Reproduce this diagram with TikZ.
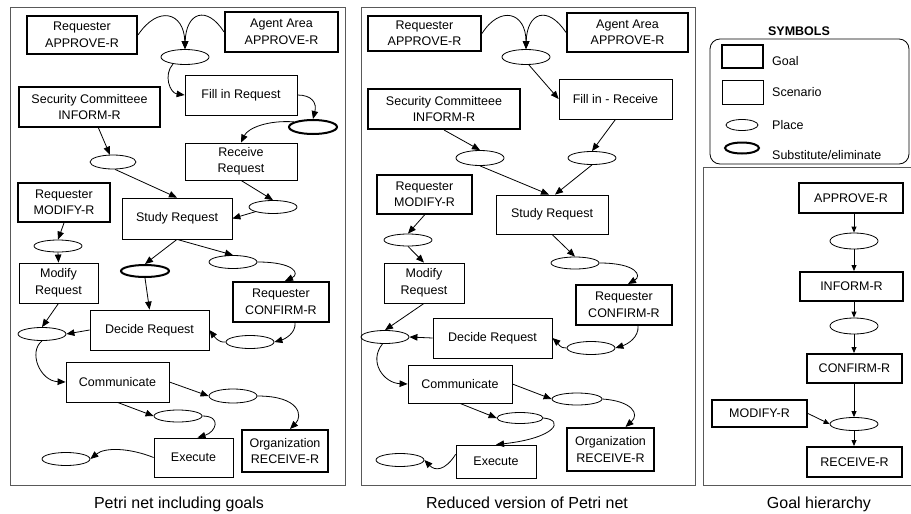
\documentclass[tikz,border=0pt]{standalone}
\usepackage{fontspec}
\setmainfont{Liberation Sans}
\usetikzlibrary{arrows.meta,shapes.geometric}
\tikzset{
  sz/.style 2 args={minimum width=#1pt, minimum height=#2pt},
  basetext/.style={font=\fontsize{12.5pt}{16.5pt}\selectfont, align=center, inner sep=0pt},
  goalbox/.style={basetext, draw, line width=2pt, rectangle},
  scenbox/.style={basetext, draw, line width=0.8pt, rectangle},
  place/.style={draw, ellipse, line width=0.8pt, inner sep=0pt},
  subst/.style={draw, ellipse, line width=2pt, inner sep=0pt},
  arr/.style={line width=0.8pt, -{Triangle[length=8pt,width=6.5pt]}},
  sarr/.style={line width=0.8pt, -{Triangle[length=6pt,width=5pt]}},
  panel/.style={draw=black!65, line width=1pt},
  caption/.style={font=\fontsize{16pt}{19pt}\selectfont, anchor=base, inner sep=0pt},
  legtext/.style={font=\fontsize{12.5pt}{15pt}\selectfont, anchor=base west, inner sep=0pt},
}
\begin{document}
\begin{tikzpicture}[x=1pt,y=-1pt]
\useasboundingbox (0,0) rectangle (911,514);

% ---------------- panel frames
\draw[panel] (10,7) rectangle (345,485);
\draw[panel] (361,7) rectangle (695,485);
\draw[panel] (915,167) -- (703,167) -- (703,485) -- (915,485);

% ================= Panel 1: Petri net including goals
\node[goalbox, sz={110}{38}] (a1) at (82,35) {Requester\\APPROVE-R};
\node[goalbox, sz={113}{40}] (a2) at (281.5,32) {Agent Area\\APPROVE-R};
\node[place, sz={48}{15}] (p1) at (185,57) {};
\node[scenbox, sz={112}{40}] (s1) at (241,95) {Fill in Request};
\node[goalbox, sz={141}{40}] (g2) at (89.5,107) {Security Committeee\\INFORM-R};
\node[place, sz={46}{14}] (p2) at (113,162) {};
\node[subst, sz={48}{14}] (x1) at (313,127) {};
\node[scenbox, sz={112}{37}] (s2) at (241,161.5) {Receive\\Request};
\node[place, sz={48}{13}] (p3) at (273,207) {};
\node[scenbox, sz={110}{41}] (s3) at (177,218.5) {Study Request};
\node[goalbox, sz={92}{39}] (g3) at (64,202.5) {Requester\\MODIFY-R};
\node[place, sz={48}{12}] (p4) at (58,246) {};
\node[scenbox, sz={79}{40}] (s4) at (58.5,283) {Modify\\Request};
\node[subst, sz={48}{12}] (x2) at (145,271) {};
\node[place, sz={48}{13}] (p5) at (233,262) {};
\node[goalbox, sz={96}{40}] (g4) at (281,302) {Requester\\CONFIRM-R};
\node[place, sz={48}{13}] (p6) at (250,342) {};
\node[scenbox, sz={119}{40}] (s5) at (149.5,330) {Decide Request};
\node[place, sz={48}{13}] (p7) at (42,334) {};
\node[scenbox, sz={103}{40}] (s6) at (117.5,382) {Communicate};
\node[place, sz={48}{14}] (p8) at (233,396) {};
\node[place, sz={48}{12}] (p9) at (178,416) {};
\node[scenbox, sz={79}{39}] (s7) at (193.5,457.5) {Execute};
\node[place, sz={48}{13}] (p10) at (66,459) {};
\node[goalbox, sz={86}{42}] (g5) at (285,451) {Organization\\RECEIVE-R};

\draw[arr] (a1.east) .. controls (158,5) and (184,12) .. (p1.north);
\draw[arr] (a2.west) .. controls (207,5) and (186,12) .. (p1.north);
\draw[arr] (p1.210) .. controls (163,75) and (170,93) .. (s1.west);
\draw[arr] (g2) -- (p2);
\draw[arr] (s1.east) .. controls (312,95) and (317,103) .. (x1.north);
\draw[arr] (x1.165) .. controls (268,120) and (248,128) .. (s2.north);
\draw[arr] (s2.south) -- (p3.north);
\draw[arr] (p3.195) -- (s3.east);
\draw[arr] (p2.-75) -- (s3.north);
\draw[arr] (g3.south) -- (p4.north);
\draw[arr] (p4.south) -- (s4.north);
\draw[arr] (s3.south) -- (x2.north);
\draw[arr] (s3.south) -- (p5.north);
\draw[arr] (p5.east) .. controls (295,262) and (300,274) .. ([xshift=4pt]g4.north);
\draw[arr] ([xshift=14pt]g4.south) .. controls (296,333) and (285,339) .. (p6.east);
\draw[arr] (p6.west) .. controls (218,343) and (214,336) .. (s5.east);
\draw[arr] (x2.south) -- (s5.north);
\draw[arr] (s4.south) -- (p7.north);
\draw[arr] (s5.west) -- (p7.east);
\draw[arr] (p7.south) .. controls (28,352) and (40,381) .. (s6.west);
\draw[arr] (s6.east) -- (p8.west);
\draw[arr] (s6.south) -- (p9.west);
\draw[arr] (p9.east) .. controls (222,416) and (216,432) .. ([xshift=4pt]s7.north);
\draw[arr] (s7.west) .. controls (130,448) and (105,447) .. (p10.east);
\draw[arr] (p8.east) .. controls (300,396) and (303,416) .. ([xshift=5pt]g5.north);

% ================= Panel 2: Reduced version
\node[goalbox, sz={113}{35}] (b1) at (424.5,33.5) {Requester\\APPROVE-R};
\node[goalbox, sz={121}{39}] (b2) at (627.5,32.5) {Agent Area\\APPROVE-R};
\node[place, sz={48}{15}] (q1) at (526,57) {};
\node[scenbox, sz={113}{40}] (t1) at (615.5,99) {Fill in - Receive};
\node[goalbox, sz={152}{40}] (b3) at (444,109) {Security Committeee\\INFORM-R};
\node[place, sz={48}{15}] (q2) at (480,158) {};
\node[place, sz={48}{13}] (q3) at (592,158) {};
\node[scenbox, sz={112}{39}] (t2) at (552,214.5) {Study Request};
\node[goalbox, sz={95}{39}] (b4) at (424.5,194.5) {Requester\\MODIFY-R};
\node[place, sz={48}{12}] (q4) at (408,240) {};
\node[scenbox, sz={80}{40}] (t3) at (424,283) {Modify\\Request};
\node[place, sz={48}{12}] (q5) at (575,263) {};
\node[goalbox, sz={96}{40}] (b5) at (624,305) {Requester\\CONFIRM-R};
\node[place, sz={48}{13}] (q6) at (591,348) {};
\node[scenbox, sz={119}{40}] (t4) at (492.5,338) {Decide Request};
\node[place, sz={48}{13}] (q7) at (385,337) {};
\node[scenbox, sz={104}{38}] (t5) at (460,384) {Communicate};
\node[place, sz={50}{12}] (q8) at (577,399) {};
\node[place, sz={46}{11}] (q9) at (520,418) {};
\node[scenbox, sz={80}{33}] (t6) at (496,461.5) {Execute};
\node[place, sz={48}{13}] (q10) at (400,460) {};
\node[goalbox, sz={87}{43}] (b6) at (610.5,449.5) {Organization\\RECEIVE-R};

\draw[arr] (b1.east) .. controls (500,5) and (526,12) .. (q1.north);
\draw[arr] (b2.west) .. controls (548,5) and (527,12) .. (q1.north);
\draw[arr] (q1.-70) -- (t1.west);
\draw[arr] (b3.south) -- (q2.north);
\draw[arr] (t1.south) -- (q3.north);
\draw[arr] (q2.south) -- ([xshift=-3pt]t2.north);
\draw[arr] (q3.south) -- ([xshift=3pt]t2.north);
\draw[arr] (b4.south) -- (q4.north);
\draw[arr] (q4.south) -- (t3.north);
\draw[arr] (t2.south) -- (q5.north);
\draw[arr] (q5.east) .. controls (637,263) and (642,276) .. ([xshift=4pt]b5.north);
\draw[arr] ([xshift=14pt]b5.south) .. controls (639,337) and (628,344) .. (q6.east);
\draw[arr] (q6.west) .. controls (560,349) and (557,342) .. (t4.east);
\draw[arr] (t3.south) -- (q7.north);
\draw[arr] (t4.west) -- (q7.east);
\draw[arr] (q7.250) .. controls (368,362) and (384,383) .. (t5.west);
\draw[arr] (t5.east) -- (q8.west);
\draw[arr] (t5.south) -- (q9.west);
\draw[arr] (q9.east) .. controls (565,420) and (556,438) .. (t6.north);
\draw[arr] (t6.170) .. controls (445,471) and (435,471) .. (q10.east);
\draw[arr] (q8.east) .. controls (632,401) and (640,414) .. ([xshift=15pt]b6.north);

% ================= Legend
\node[font=\bfseries\fontsize{12.5pt}{15pt}\selectfont, anchor=base, inner sep=0pt] (symt) at (799,35) {SYMBOLS};
\draw[line width=0.8pt, rounded corners=10pt] (710,39) rectangle (909,164);
\node[goalbox, sz={41}{23}] (lg) at (742.5,56.5) {};
\node[scenbox, sz={41}{24}] (ls) at (742.5,92) {};
\node[place, sz={32}{11}] (lp) at (742,125) {};
\node[subst, sz={34}{11}] (lx) at (742,148) {};
\node[legtext] (lgt) at (772,65) {Goal};
\node[legtext] (lst) at (772,96.5) {Scenario};
\node[legtext] (lpt) at (772,129) {Place};
\node[legtext] (lxt) at (772,159) {Substitute/eliminate};

% ================= Panel 3: Goal hierarchy
\node[goalbox, sz={104}{30}] (h1) at (851,198) {APPROVE-R};
\node[place, sz={48}{16}] (rA) at (854,241) {};
\node[goalbox, sz={103}{29}] (h2) at (851.5,286.5) {INFORM-R};
\node[place, sz={48}{16}] (rB) at (854,326) {};
\node[goalbox, sz={95}{29}] (h3) at (854.5,368.5) {CONFIRM-R};
\node[place, sz={48}{13}] (rC) at (854,424) {};
\node[goalbox, sz={95}{27}] (h4) at (759.5,413.5) {MODIFY-R};
\node[goalbox, sz={95}{30}] (h5) at (854.5,462) {RECEIVE-R};

\draw[sarr] (h1.south -| rA.north) -- (rA.north);
\draw[sarr] (rA.south) -- (rA.south |- h2.north);
\draw[sarr] (h2.south -| rB.north) -- (rB.north);
\draw[sarr] (rB.south) -- (rB.south |- h3.north);
\draw[sarr] (h3.south -| rC.north) -- (rC.north);
\draw[sarr] (h4.east) -- (rC.west);
\draw[sarr] (rC.south) -- (rC.south |- h5.north);

% ================= Captions
\node[caption] (c1) at (179,508) {Petri net including goals};
\node[caption] (c2) at (527,508) {Reduced version of Petri net};
\node[caption] (c3) at (819,508) {Goal hierarchy};
\end{tikzpicture}
\end{document}
